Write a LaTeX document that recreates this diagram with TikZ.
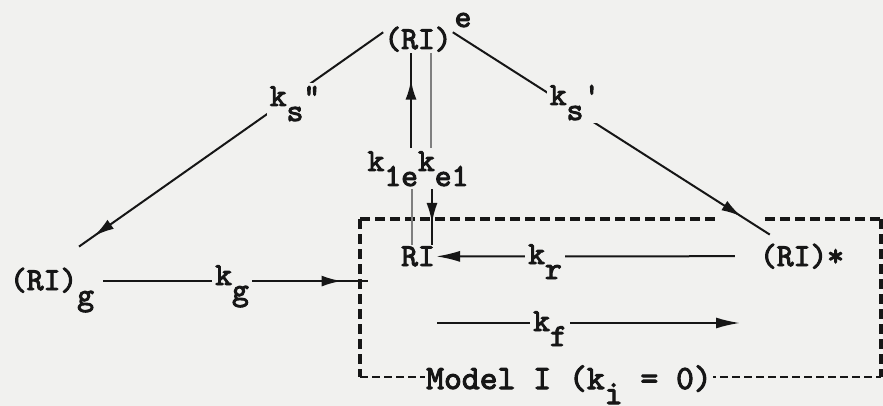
\documentclass[tikz,border=0pt]{standalone}
\usepackage{fontspec}
\newfontfamily\tw[Extension=.otf, FakeBold=3]{lmmono10-regular}
\usetikzlibrary{arrows.meta,decorations.markings}
\pgfdeclarelayer{back}
\pgfdeclarelayer{lines}
\pgfsetlayers{back,lines,main}
\definecolor{paper}{HTML}{F1F1EF}
\definecolor{ink}{HTML}{161616}
\newcommand\dn[1]{\raisebox{-15pt}{#1}}
\newcommand\hi[1]{\raisebox{22pt}{#1}}
\tikzset{
  txt/.style={inner sep=1pt, text=ink, font=\tw\fontsize{32}{36}\selectfont},
  lbl/.style={txt, fill=paper, inner sep=3pt},
  ln/.style={draw=ink, line width=2pt},
  faint/.style={draw=ink!55, line width=1.2pt},
  boxln/.style={draw=ink, line width=3.2pt, dash pattern=on 10pt off 5pt},
  tip/.style={-{Latex[length=24pt,width=11pt]}},
  arrowat/.style={postaction={decorate}, decoration={markings, mark=at position #1 with {\arrow{Latex[length=20pt,width=11pt]}}}},
}
\begin{document}
\begin{tikzpicture}[x=1pt,y=-1pt]
\begin{pgfonlayer}{back}
\fill[paper] (0,0) rectangle (883,406);
\end{pgfonlayer}
\useasboundingbox (0,0) rectangle (883,406);

% species
\node[txt, anchor=base] (RIe) at (418,49) {(RI)\rlap{\hspace{3pt}\hi{e}}};
\node[txt, anchor=base] (RIg) at (52,290) {(RI)\dn{g}};
\node[txt, anchor=base] (RI) at (418,266) {RI};
\node[txt, anchor=base] (RIs) at (802,266) {(RI)*};

% rate labels
\node[lbl, anchor=base] (ks2) at (295,106) {k\dn{s}"};
\node[lbl, anchor=base] (ks1) at (575,105) {k\dn{s}'};
\node[lbl, anchor=base] (kk) at (418,171) {k\dn{1e}k\dn{e1}};
\node[lbl, anchor=base] (kg) at (232,285) {k\dn{g}};
\node[lbl, anchor=base] (kr) at (545,264) {k\dn{r}};
\node[lbl, anchor=base] (kf) at (550,331) {k\dn{f}};
\node[txt, fill=paper, anchor=base, font=\tw\fontsize{34}{38}\selectfont] (model) at (569,389) {Model I (k\dn{i} = 0)};

% box corners and free ends
\coordinate (bTL) at (360,219);
\coordinate (bBL) at (360,377);
\coordinate (bTR) at (881,219);
\coordinate (bBR) at (881,377);
\coordinate (gapL) at (717,219);
\coordinate (gapR) at (765,219);
\coordinate (kfL) at (437,323);
\coordinate (kfR) at (740,323);

\begin{pgfonlayer}{lines}
% dashed model box
\draw[boxln] (bTL) -- (gapL);
\draw[boxln] (gapR) -- (bTR);
\draw[boxln] (bTL) -- (bBL);
\draw[boxln] (bTR) -- (bBR);
\draw[boxln, line width=2.8pt, dash pattern=on 8pt off 4pt] (bBL) -- (bBR);

% k_s''
\draw[ln, arrowat=0.95] (RIe.west) -- ([xshift=27pt,yshift=20pt]RIg.north);
% k_s'
\draw[ln, arrowat=0.91] (RIe.east) -- ([xshift=11pt,yshift=8pt]RIs.north west);
% k_g
\draw[ln, arrowat=0.9] ([xshift=8pt,yshift=9pt]RIg.east) -- ([xshift=8pt,yshift=9pt]RIg.east -| bTL);
% k_1e
\draw[ln, line width=2.8pt, arrowat=0.72] ([xshift=-7pt]kk.north) -- ([xshift=-7pt]RIe.south);
\draw[faint] ([xshift=-6pt]RI.north) -- ([xshift=-6pt]kk.south);
% k_e1
\draw[faint] ([xshift=13pt]RIe.south) -- ([xshift=13pt]kk.north);
\draw[ln, arrowat=0.6] ([xshift=14pt]kk.south) -- ([xshift=14pt]RI.north);
% k_r
\draw[ln, tip, shorten <=24pt] (RIs.west) -- (RI.east);
% k_f
\draw[ln, tip] (kfL) -- (kfR);
\end{pgfonlayer}
\end{tikzpicture}
\end{document}
